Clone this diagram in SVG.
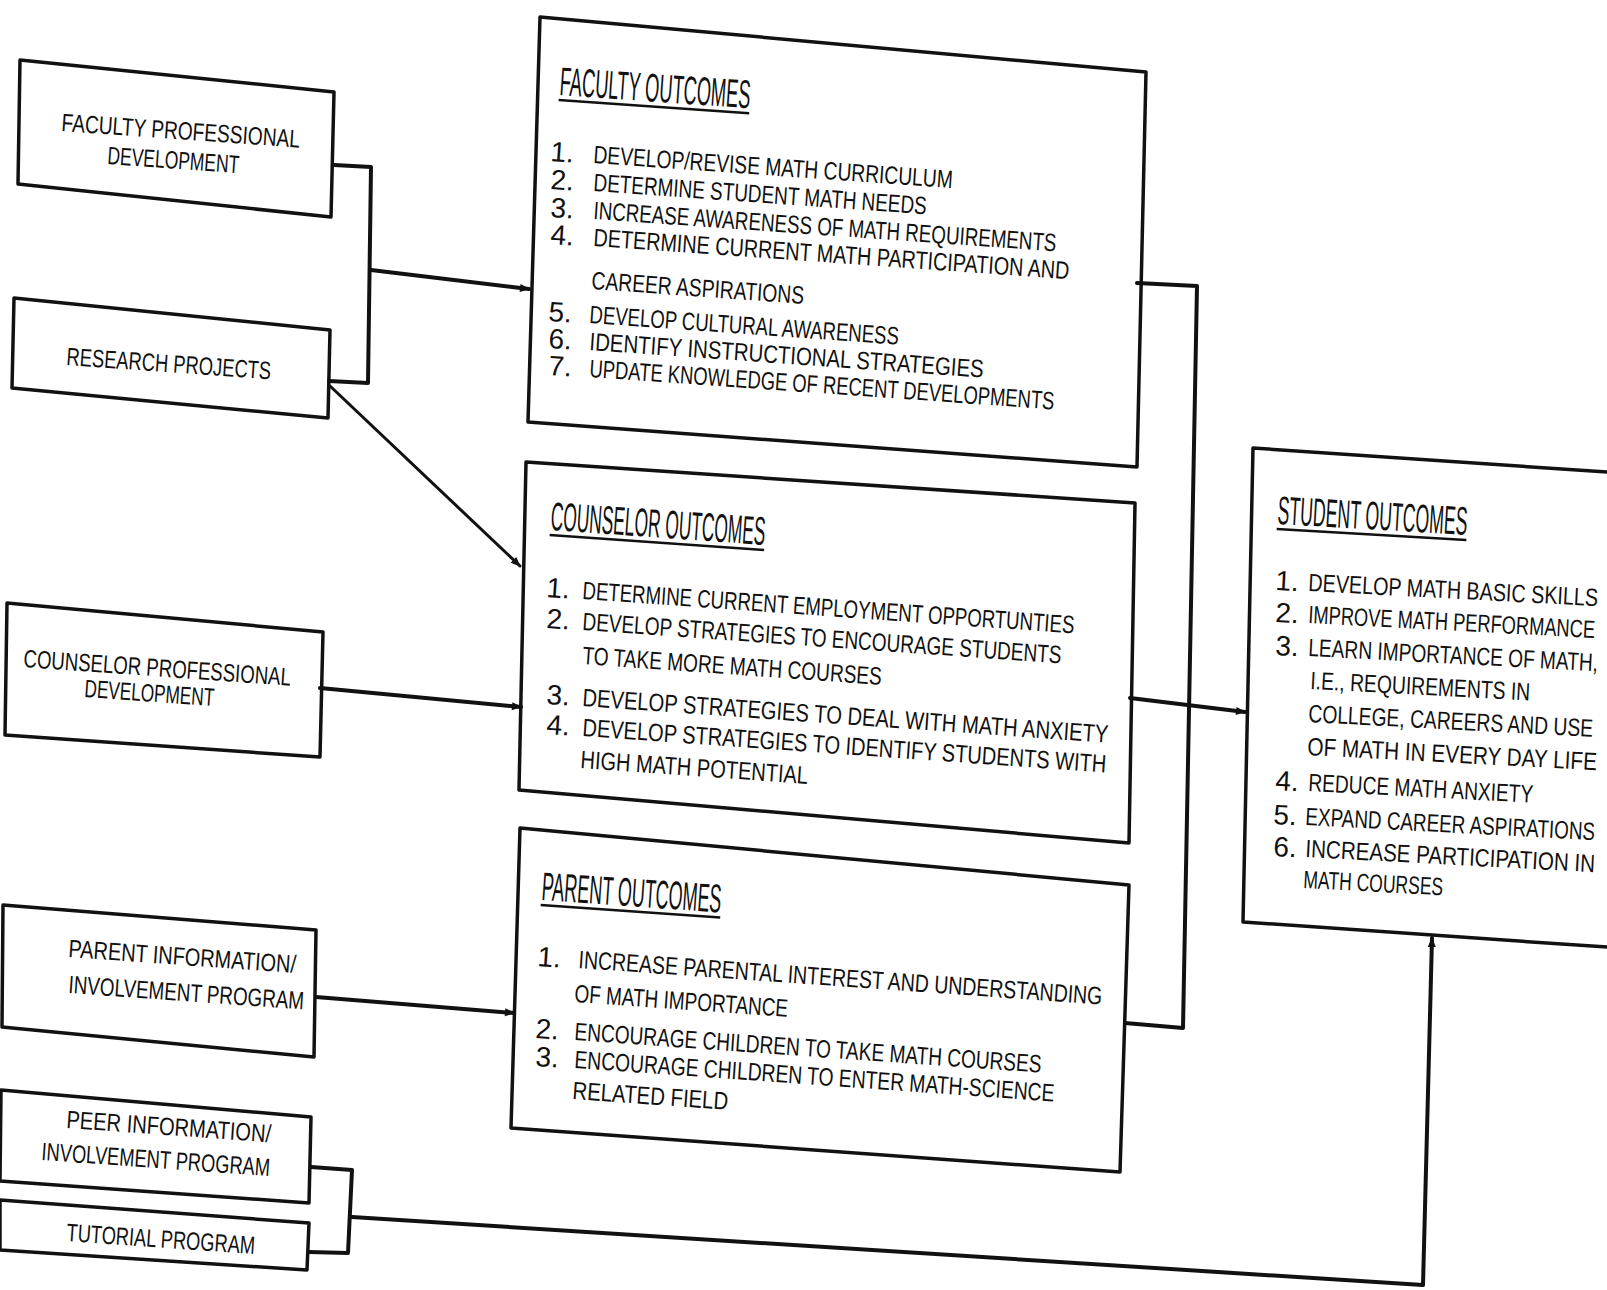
<svg xmlns="http://www.w3.org/2000/svg" width="1607" height="1290" viewBox="0 0 1607 1290">
<defs>
<style>
.box{fill:none;stroke:#111;stroke-width:3.5;stroke-linejoin:round}
.t{font-family:"Liberation Sans",Arial,sans-serif;font-size:25px;fill:#111}
.h{font-family:"Liberation Sans",Arial,sans-serif;font-size:40px;fill:#111}
.n{font-family:"Liberation Sans",Arial,sans-serif;font-size:28px;fill:#111}
.c{fill:none;stroke:#111;stroke-width:4;stroke-linejoin:round;stroke-linecap:round}
.c2{fill:none;stroke:#111;stroke-width:3;stroke-linejoin:round;stroke-linecap:round}
.u{stroke:#111;stroke-width:2.5}
</style>
<marker id="ah" viewBox="0 0 10 10" refX="9" refY="5" markerWidth="12" markerHeight="10" markerUnits="userSpaceOnUse" orient="auto"><path d="M0,1 L10,5 L0,9 z" fill="#111"/></marker>
</defs>
<rect width="1607" height="1290" fill="#fff"/>

<g id="connectors">
<polyline class="c" points="334,165 371,167 368,383 329,381"/>
<line class="c" x1="371" y1="270" x2="529" y2="289" marker-end="url(#ah)"/>
<line class="c2" x1="330" y1="386" x2="520" y2="566" marker-end="url(#ah)"/>
<line class="c" x1="320" y1="688" x2="521" y2="707" marker-end="url(#ah)"/>
<line class="c" x1="316" y1="997" x2="514" y2="1013" marker-end="url(#ah)"/>
<polyline class="c" points="311,1167 352,1170 348,1253 309,1252"/>
<polyline class="c" points="352,1217 1423,1285 1432,938" marker-end="url(#ah)"/>
<polyline class="c" points="1137,283 1197,286 1183,1028 1125,1023"/>
<line class="c" x1="1130" y1="698" x2="1245" y2="712" marker-end="url(#ah)"/>
</g>

<g id="faculty-professional-development">
<polygon class="box" points="20,60 334,92 331,217 18,184"/>
<text class="t" x="61" y="131" textLength="239" lengthAdjust="spacingAndGlyphs" transform="rotate(4 61 131)">FACULTY PROFESSIONAL</text>
<text class="t" x="107" y="164" textLength="132" lengthAdjust="spacingAndGlyphs" transform="rotate(4 107 164)">DEVELOPMENT</text>
</g>

<g id="research-projects">
<polygon class="box" points="14,298 330,330 328,418 12,388"/>
<text class="t" x="66" y="365" textLength="205" lengthAdjust="spacingAndGlyphs" transform="rotate(4 66 365)">RESEARCH PROJECTS</text>
</g>

<g id="counselor-professional-development">
<polygon class="box" points="7,603 323,632 320,757 5,735"/>
<text class="t" x="23" y="667" textLength="268" lengthAdjust="spacingAndGlyphs" transform="rotate(4 23 667)">COUNSELOR PROFESSIONAL</text>
<text class="t" x="84" y="697" textLength="130" lengthAdjust="spacingAndGlyphs" transform="rotate(4 84 697)">DEVELOPMENT</text>
</g>

<g id="parent-information-program">
<polygon class="box" points="3,905 316,930 314,1057 2,1027"/>
<text class="t" x="68" y="957" textLength="228" lengthAdjust="spacingAndGlyphs" transform="rotate(4 68 957)">PARENT INFORMATION/</text>
<text class="t" x="68" y="993" textLength="236" lengthAdjust="spacingAndGlyphs" transform="rotate(4 68 993)">INVOLVEMENT PROGRAM</text>
</g>

<g id="peer-information-program">
<polygon class="box" points="1,1090 311,1117 309,1203 0,1181"/>
<text class="t" x="66" y="1128" textLength="205" lengthAdjust="spacingAndGlyphs" transform="rotate(4 66 1128)">PEER INFORMATION/</text>
<text class="t" x="41" y="1160" textLength="229" lengthAdjust="spacingAndGlyphs" transform="rotate(4 41 1160)">INVOLVEMENT PROGRAM</text>
</g>

<g id="tutorial-program">
<polygon class="box" points="0,1200 309,1223 307,1270 0,1250"/>
<text class="t" x="66" y="1241" textLength="189" lengthAdjust="spacingAndGlyphs" transform="rotate(4 66 1241)">TUTORIAL PROGRAM</text>
</g>

<g id="faculty-outcomes">
<polygon class="box" points="540,17 1146,72 1137,467 528,422"/>
<g transform="rotate(4 559 95)">
<text class="h" x="559" y="95" textLength="191" lengthAdjust="spacingAndGlyphs">FACULTY OUTCOMES</text>
<line class="u" x1="559" y1="100" x2="750" y2="100"/>
</g>
<text class="n" x="550" y="161" transform="rotate(4 550 161)">1.</text>
<text class="t" x="593" y="163" textLength="360" lengthAdjust="spacingAndGlyphs" transform="rotate(4 593 163)">DEVELOP/REVISE MATH CURRICULUM</text>
<text class="n" x="550" y="189" transform="rotate(4 550 189)">2.</text>
<text class="t" x="593" y="191" textLength="334" lengthAdjust="spacingAndGlyphs" transform="rotate(4 593 191)">DETERMINE STUDENT MATH NEEDS</text>
<text class="n" x="550" y="217" transform="rotate(4 550 217)">3.</text>
<text class="t" x="593" y="219" textLength="464" lengthAdjust="spacingAndGlyphs" transform="rotate(4 593 219)">INCREASE AWARENESS OF MATH REQUIREMENTS</text>
<text class="n" x="550" y="244" transform="rotate(4 550 244)">4.</text>
<text class="t" x="593" y="246" textLength="477" lengthAdjust="spacingAndGlyphs" transform="rotate(4 593 246)">DETERMINE CURRENT MATH PARTICIPATION AND</text>
<text class="t" x="591" y="289" textLength="213" lengthAdjust="spacingAndGlyphs" transform="rotate(4 591 289)">CAREER ASPIRATIONS</text>
<text class="n" x="548" y="321" transform="rotate(4 548 321)">5.</text>
<text class="t" x="589" y="323" textLength="310" lengthAdjust="spacingAndGlyphs" transform="rotate(4 589 323)">DEVELOP CULTURAL AWARENESS</text>
<text class="n" x="548" y="348" transform="rotate(4 548 348)">6.</text>
<text class="t" x="589" y="350" textLength="395" lengthAdjust="spacingAndGlyphs" transform="rotate(4 589 350)">IDENTIFY INSTRUCTIONAL STRATEGIES</text>
<text class="n" x="548" y="375" transform="rotate(4 548 375)">7.</text>
<text class="t" x="589" y="377" textLength="466" lengthAdjust="spacingAndGlyphs" transform="rotate(4 589 377)">UPDATE KNOWLEDGE OF RECENT DEVELOPMENTS</text>
</g>

<g id="counselor-outcomes">
<polygon class="box" points="526,462 1135,503 1129,843 519,790"/>
<g transform="rotate(4 550 530)">
<text class="h" x="550" y="530" textLength="215" lengthAdjust="spacingAndGlyphs">COUNSELOR OUTCOMES</text>
<line class="u" x1="550" y1="535" x2="765" y2="535"/>
</g>
<text class="n" x="546" y="597" transform="rotate(4 546 597)">1.</text>
<text class="t" x="582" y="599" textLength="493" lengthAdjust="spacingAndGlyphs" transform="rotate(4 582 599)">DETERMINE CURRENT EMPLOYMENT OPPORTUNTIES</text>
<text class="n" x="546" y="628" transform="rotate(4 546 628)">2.</text>
<text class="t" x="582" y="630" textLength="480" lengthAdjust="spacingAndGlyphs" transform="rotate(4 582 630)">DEVELOP STRATEGIES TO ENCOURAGE STUDENTS</text>
<text class="t" x="582" y="664" textLength="300" lengthAdjust="spacingAndGlyphs" transform="rotate(4 582 664)">TO TAKE MORE MATH COURSES</text>
<text class="n" x="546" y="704" transform="rotate(4 546 704)">3.</text>
<text class="t" x="582" y="706" textLength="527" lengthAdjust="spacingAndGlyphs" transform="rotate(4 582 706)">DEVELOP STRATEGIES TO DEAL WITH MATH ANXIETY</text>
<text class="n" x="546" y="734" transform="rotate(4 546 734)">4.</text>
<text class="t" x="582" y="736" textLength="525" lengthAdjust="spacingAndGlyphs" transform="rotate(4 582 736)">DEVELOP STRATEGIES TO IDENTIFY STUDENTS WITH</text>
<text class="t" x="580" y="768" textLength="228" lengthAdjust="spacingAndGlyphs" transform="rotate(4 580 768)">HIGH MATH POTENTIAL</text>
</g>

<g id="parent-outcomes">
<polygon class="box" points="520,828 1129,885 1120,1172 511,1128"/>
<g transform="rotate(4 541 900)">
<text class="h" x="541" y="900" textLength="180" lengthAdjust="spacingAndGlyphs">PARENT OUTCOMES</text>
<line class="u" x1="541" y1="905" x2="721" y2="905"/>
</g>
<text class="n" x="537" y="966" transform="rotate(4 537 966)">1.</text>
<text class="t" x="578" y="968" textLength="525" lengthAdjust="spacingAndGlyphs" transform="rotate(4 578 968)">INCREASE PARENTAL INTEREST AND UNDERSTANDING</text>
<text class="t" x="574" y="1002" textLength="214" lengthAdjust="spacingAndGlyphs" transform="rotate(4 574 1002)">OF MATH IMPORTANCE</text>
<text class="n" x="535" y="1038" transform="rotate(4 535 1038)">2.</text>
<text class="t" x="574" y="1040" textLength="468" lengthAdjust="spacingAndGlyphs" transform="rotate(4 574 1040)">ENCOURAGE CHILDREN TO TAKE MATH COURSES</text>
<text class="n" x="535" y="1066" transform="rotate(4 535 1066)">3.</text>
<text class="t" x="574" y="1068" textLength="481" lengthAdjust="spacingAndGlyphs" transform="rotate(4 574 1068)">ENCOURAGE CHILDREN TO ENTER MATH-SCIENCE</text>
<text class="t" x="572" y="1099" textLength="156" lengthAdjust="spacingAndGlyphs" transform="rotate(4 572 1099)">RELATED FIELD</text>
</g>

<g id="student-outcomes">
<polygon class="box" points="1253,448 1620,473 1620,948 1243,922"/>
<g transform="rotate(3.3 1277 524)">
<text class="h" x="1277" y="524" textLength="190" lengthAdjust="spacingAndGlyphs">STUDENT OUTCOMES</text>
<line class="u" x1="1277" y1="529" x2="1467" y2="529"/>
</g>
<text class="n" x="1275" y="590" transform="rotate(3 1275 590)">1.</text>
<text class="t" x="1308" y="591" textLength="290" lengthAdjust="spacingAndGlyphs" transform="rotate(3 1308 591)">DEVELOP MATH BASIC SKILLS</text>
<text class="n" x="1275" y="622" transform="rotate(3 1275 622)">2.</text>
<text class="t" x="1308" y="623" textLength="287" lengthAdjust="spacingAndGlyphs" transform="rotate(3 1308 623)">IMPROVE MATH PERFORMANCE</text>
<text class="n" x="1275" y="655" transform="rotate(3 1275 655)">3.</text>
<text class="t" x="1308" y="656" textLength="290" lengthAdjust="spacingAndGlyphs" transform="rotate(3 1308 656)">LEARN IMPORTANCE OF MATH,</text>
<text class="t" x="1310" y="689" textLength="220" lengthAdjust="spacingAndGlyphs" transform="rotate(3 1310 689)">I.E., REQUIREMENTS IN</text>
<text class="t" x="1308" y="722" textLength="285" lengthAdjust="spacingAndGlyphs" transform="rotate(3 1308 722)">COLLEGE, CAREERS AND USE</text>
<text class="t" x="1307" y="755" textLength="290" lengthAdjust="spacingAndGlyphs" transform="rotate(3 1307 755)">OF MATH IN EVERY DAY LIFE</text>
<text class="n" x="1275" y="790" transform="rotate(3 1275 790)">4.</text>
<text class="t" x="1308" y="791" textLength="225" lengthAdjust="spacingAndGlyphs" transform="rotate(3 1308 791)">REDUCE MATH ANXIETY</text>
<text class="n" x="1273" y="824" transform="rotate(3 1273 824)">5.</text>
<text class="t" x="1305" y="825" textLength="290" lengthAdjust="spacingAndGlyphs" transform="rotate(3 1305 825)">EXPAND CAREER ASPIRATIONS</text>
<text class="n" x="1273" y="856" transform="rotate(3 1273 856)">6.</text>
<text class="t" x="1305" y="857" textLength="290" lengthAdjust="spacingAndGlyphs" transform="rotate(3 1305 857)">INCREASE PARTICIPATION IN</text>
<text class="t" x="1303" y="888" textLength="140" lengthAdjust="spacingAndGlyphs" transform="rotate(3 1303 888)">MATH COURSES</text>
</g>
</svg>
